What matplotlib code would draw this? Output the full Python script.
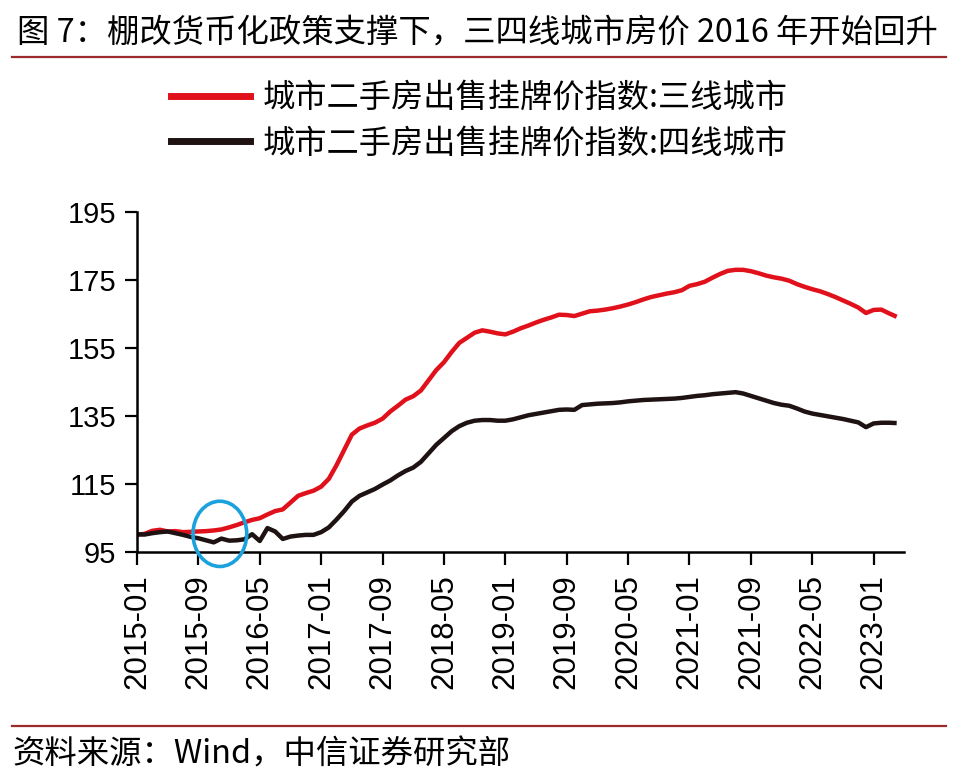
import numpy as np
import matplotlib
matplotlib.use('Agg')
from matplotlib import pyplot as plt
from matplotlib.patches import Ellipse
from matplotlib.lines import Line2D

plt.rcParams['font.family'] = ['Noto Sans CJK SC', 'DejaVu Sans']

# monthly data, 2015-01 .. 2023-04
months = [f'{2015 + i // 12}-{i % 12 + 1:02d}' for i in range(100)]

tier3 = [100.0, 100.3, 101.2, 101.5, 101.0, 101.1, 100.8, 100.9, 101.0, 101.1,
         101.3, 101.6, 102.2, 102.9, 103.7, 104.4, 104.9, 106.0, 107.0, 107.5,
         109.5, 111.5, 112.3, 113.0, 114.2, 116.5, 120.5, 125.0, 129.5, 131.3,
         132.2, 133.0, 134.2, 136.3, 138.0, 139.8, 140.8, 142.5, 145.5, 148.5,
         150.8, 153.8, 156.5, 158.0, 159.5, 160.2, 159.8, 159.3, 159.0, 159.8,
         160.8, 161.6, 162.5, 163.3, 164.0, 164.8, 164.7, 164.4, 165.1, 165.8,
         166.0, 166.3, 166.7, 167.2, 167.8, 168.5, 169.3, 170.0, 170.5, 171.0,
         171.4, 172.0, 173.3, 173.8, 174.5, 175.7, 176.8, 177.7, 178.0, 178.0,
         177.6, 177.0, 176.3, 175.8, 175.4, 174.8, 173.8, 173.0, 172.3, 171.7,
         170.9, 170.0, 169.0, 168.0, 166.9, 165.3, 166.2, 166.3, 165.2, 164.2]

tier4 = [100.2, 100.1, 100.5, 100.8, 101.0, 100.5, 100.0, 99.4, 99.0, 98.4,
         97.8, 98.9, 98.3, 98.4, 98.7, 100.2, 98.2, 102.0, 101.0, 98.8,
         99.5, 99.8, 100.0, 100.0, 100.8, 102.2, 104.5, 107.0, 109.8, 111.5,
         112.5, 113.5, 114.8, 116.0, 117.5, 118.8, 119.8, 121.5, 124.0, 126.5,
         128.5, 130.5, 132.0, 133.0, 133.6, 133.8, 133.8, 133.6, 133.6, 134.0,
         134.6, 135.2, 135.6, 136.0, 136.4, 136.8, 136.9, 136.8, 138.2, 138.4,
         138.6, 138.7, 138.8, 139.0, 139.3, 139.5, 139.7, 139.8, 139.9, 140.0,
         140.1, 140.3, 140.6, 140.9, 141.1, 141.4, 141.6, 141.8, 142.0, 141.6,
         140.9, 140.2, 139.5, 138.8, 138.3, 138.0, 137.2, 136.3, 135.7, 135.3,
         134.9, 134.5, 134.1, 133.6, 133.1, 131.7, 132.8, 133.0, 133.0, 132.9]

labels = ['城市二手房出售挂牌价指数:三线城市', '城市二手房出售挂牌价指数:四线城市']
red = '#E0111B'
dark = '#1E1212'

fig = plt.figure(figsize=(9.58, 7.74), dpi=100)
ax = fig.add_axes([0.143, 0.287, 0.801, 0.439])

x = np.arange(len(months))
ax.plot(x, tier3, color=red, lw=3.2, solid_capstyle='butt')
ax.plot(x, tier4, color=dark, lw=3.2, solid_capstyle='butt')

ax.set_xlim(0, 100)
ax.set_ylim(95, 195)
ax.set_yticks(np.arange(95, 196, 20))
ticks = np.arange(0, 100, 8)
ax.set_xticks(ticks)
ax.set_xticklabels([months[i] for i in ticks], rotation=90)
for lab in ax.get_xticklabels() + ax.get_yticklabels():
    lab.set_fontfamily('Liberation Sans')
ax.tick_params(axis='x', labelsize=22.5, length=9, width=1.6, direction='out', pad=7)
ax.tick_params(axis='y', labelsize=21, length=9, width=1.6, direction='out', pad=6)
for s in ['top', 'right']:
    ax.spines[s].set_visible(False)
for s in ['left', 'bottom']:
    ax.spines[s].set_linewidth(1.8)

# highlight circle
ax.add_patch(Ellipse((10.8, 100.3), 7.0, 19.2, fill=False, ec='#1BA1DC',
                     lw=2.6, clip_on=False, zorder=5))

# legend
handles = [Line2D([], [], color=red, lw=5), Line2D([], [], color=dark, lw=5)]
fig.legend(handles, labels, loc='center', bbox_to_anchor=(0.5, 0.844),
           frameon=False, fontsize=23.2, handlelength=2.48, handletextpad=0.37,
           labelspacing=0.42)

# title and source
fig.text(0.018, 0.958, '图 7：棚改货币化政策支撑下，三四线城市房价 2016 年开始回升',
         fontsize=23.3, va='center', ha='left')
fig.add_artist(Line2D([0.013, 0.987], [0.926, 0.926], color='#9B2A2A', lw=1.6))
fig.add_artist(Line2D([0.013, 0.987], [0.062, 0.062], color='#9B2A2A', lw=1.6))
fig.text(0.013, 0.025, '资料来源：Wind，中信证券研究部', fontsize=23.3,
         va='center', ha='left')

fig.savefig('out.png', dpi=100)
